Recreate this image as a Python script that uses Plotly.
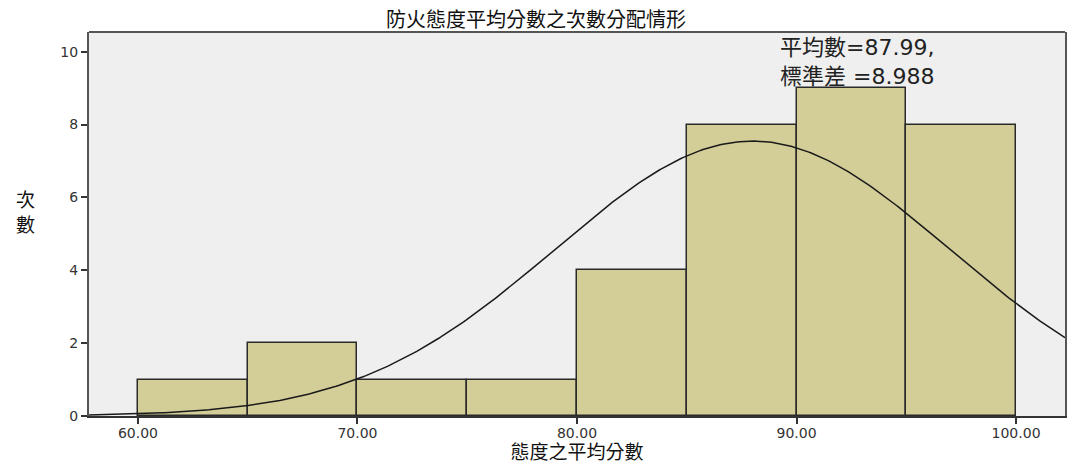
import numpy as np
import plotly.graph_objects as go

bin_starts = [60, 65, 70, 75, 80, 85, 90, 95]
counts = [1, 2, 1, 1, 4, 8, 9, 8]
bin_width = 5
mean_val = 87.99
sd_val = 8.988
x_ticks = [60, 70, 80, 90, 100]
y_ticks = [0, 2, 4, 6, 8, 10]

title_text = "防火態度平均分數之次數分配情形"
x_title = "態度之平均分數"
y_title = "次<br>數"
stats_text = "平均數=87.99,<br>標準差 =8.988"

x_range = [57.77, 102.23]
y_range = [0, 10.54]

centers = [s + bin_width / 2 for s in bin_starts]
n_total = sum(counts)
xs = np.linspace(x_range[0], x_range[1], 400)
ys = n_total * bin_width / (sd_val * np.sqrt(2 * np.pi)) * np.exp(-0.5 * ((xs - mean_val) / sd_val) ** 2)

FONT = "DejaVu Sans, Noto Sans CJK TC, sans-serif"
W, H = 1070, 466
ML, MR, MT, MB = 89, 3, 32, 50
PW, PH = W - ML - MR, H - MT - MB

fig = go.Figure()
fig.add_trace(go.Bar(
    x=centers, y=counts, width=bin_width,
    marker=dict(color="#D3CD98", line=dict(color="#2a2a2a", width=1.5)),
    showlegend=False, hoverinfo="skip",
))
fig.add_trace(go.Scatter(
    x=xs, y=ys, mode="lines",
    line=dict(color="#1a1a1a", width=1.5),
    showlegend=False, hoverinfo="skip",
))

fig.update_layout(
    width=W, height=H,
    margin=dict(l=ML, r=MR, t=MT, b=MB),
    paper_bgcolor="white",
    plot_bgcolor="#EFEFEF",
    font=dict(family=FONT, color="#333333", size=14),
    title=dict(text=title_text, x=536 / W, xanchor="center", y=1 - 20 / H, yanchor="middle",
               font=dict(family=FONT, size=20, color="#111111")),
    bargap=0,
    xaxis=dict(
        range=x_range, tickvals=x_ticks, ticktext=[f"{v:.2f}" for v in x_ticks],
        ticks="outside", ticklen=6, tickcolor="#333333", tickwidth=1.5,
        ticklabelstandoff=-3,
        showgrid=False, zeroline=False,
        showline=True, linecolor="#333333", linewidth=1.5, mirror=False,
        title=dict(text=x_title, font=dict(family=FONT, size=19, color="#111111"), standoff=6),
        tickfont=dict(size=14, color="#333333"),
    ),
    yaxis=dict(
        range=y_range, tickvals=y_ticks,
        ticks="outside", ticklen=6, tickcolor="#333333", tickwidth=1.5,
        showgrid=False, zeroline=False,
        showline=True, linecolor="#555555", linewidth=2, mirror=True,
        tickfont=dict(size=14, color="#333333"),
    ),
    shapes=[dict(type="line", xref="paper", yref="paper", x0=0, x1=1, y0=1, y1=1,
                 line=dict(color="#555555", width=2))],
    annotations=[
        dict(text=y_title, xref="paper", yref="paper", x=(25 - ML) / PW, y=0.53,
             xanchor="center", yanchor="middle", showarrow=False, align="center",
             font=dict(family=FONT, size=19, color="#111111")),
        dict(text=stats_text, xref="paper", yref="paper", x=(780 - ML) / PW,
             y=1 - (34 - MT) / PH, xanchor="left", yanchor="top", showarrow=False,
             align="left", borderpad=0,
             font=dict(family=FONT, size=22, color="#222222")),
    ],
)

fig.write_html("out.html", config={"displayModeBar": False},
               post_script="document.body.style.margin='0';document.body.style.overflow='hidden';")
